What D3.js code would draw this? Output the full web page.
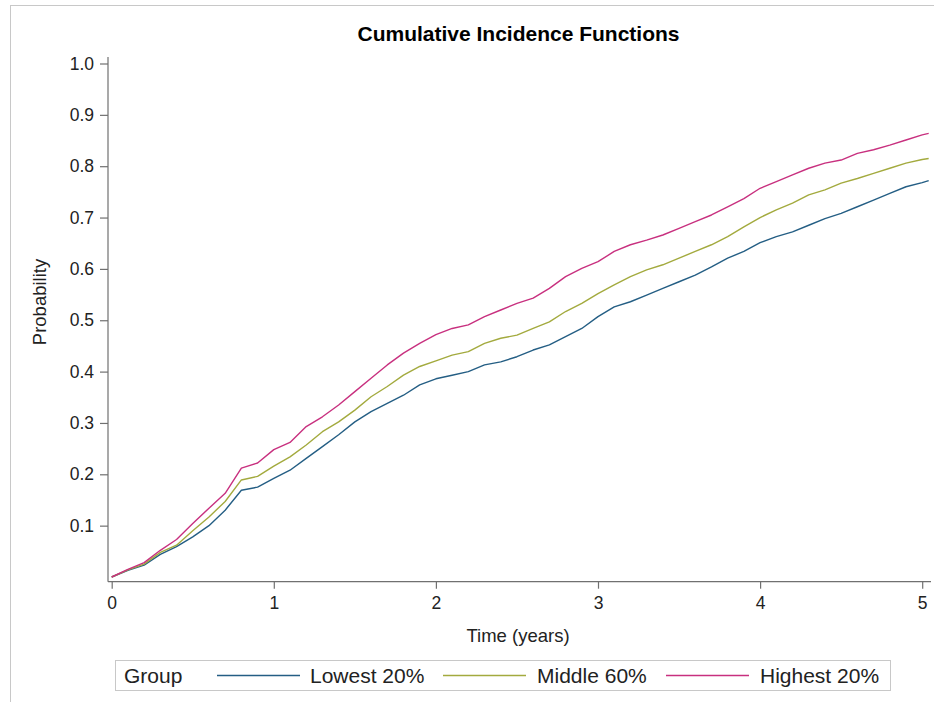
<!DOCTYPE html>
<html>
<head>
<meta charset="utf-8">
<script src="https://cdn.jsdelivr.net/npm/d3@7"></script>
<style>
  html, body { margin: 0; padding: 0; background: #fff; }
  svg { display: block; }
  text { font-family: Arial, "Liberation Sans", Helvetica, sans-serif; }
</style>
</head>
<body>
<svg id="chart" width="934" height="702"></svg>
<script>
const titleText = "Cumulative Incidence Functions";
const xLabel = "Time (years)";
const yLabel = "Probability";
const legendTitle = "Group";
const groups = ["Lowest 20%", "Middle 60%", "Highest 20%"];
const groupColors = ["#245e84", "#a3aa3e", "#c8307f"];
const xTicks = [0, 1, 2, 3, 4, 5];
const yTicks = [0.1, 0.2, 0.3, 0.4, 0.5, 0.6, 0.7, 0.8, 0.9, 1.0];

const times = [0, 0.1, 0.2, 0.3, 0.4, 0.5, 0.6, 0.7, 0.8, 0.9,
  1.0, 1.1, 1.2, 1.3, 1.4, 1.5, 1.6, 1.7, 1.8, 1.9,
  2.0, 2.1, 2.2, 2.3, 2.4, 2.5, 2.6, 2.7, 2.8, 2.9,
  3.0, 3.1, 3.2, 3.3, 3.4, 3.5, 3.6, 3.7, 3.8, 3.9,
  4.0, 4.1, 4.2, 4.3, 4.4, 4.5, 4.6, 4.7, 4.8, 4.9,
  5.0, 5.04];

const lowest = [0, 0.013, 0.023, 0.044, 0.059, 0.078, 0.100, 0.130, 0.169, 0.175,
  0.192, 0.208, 0.231, 0.254, 0.277, 0.302, 0.322, 0.338, 0.354, 0.374,
  0.386, 0.393, 0.400, 0.413, 0.419, 0.429, 0.442, 0.452, 0.468, 0.484,
  0.507, 0.526, 0.536, 0.549, 0.562, 0.575, 0.588, 0.604, 0.621, 0.634,
  0.651, 0.663, 0.672, 0.685, 0.698, 0.708, 0.721, 0.734, 0.747, 0.760,
  0.768, 0.772];

const middle = [0, 0.014, 0.025, 0.048, 0.062, 0.090, 0.117, 0.147, 0.189, 0.196,
  0.216, 0.234, 0.257, 0.283, 0.302, 0.325, 0.351, 0.371, 0.393, 0.410,
  0.421, 0.432, 0.439, 0.455, 0.465, 0.471, 0.484, 0.497, 0.517, 0.533,
  0.552, 0.569, 0.585, 0.598, 0.608, 0.621, 0.634, 0.647, 0.663, 0.682,
  0.700, 0.715, 0.728, 0.744, 0.754, 0.767, 0.776, 0.786, 0.796, 0.806,
  0.813, 0.815];

const highest = [0, 0.015, 0.028, 0.052, 0.073, 0.104, 0.134, 0.163, 0.212, 0.222,
  0.248, 0.262, 0.293, 0.312, 0.335, 0.361, 0.387, 0.413, 0.436, 0.455,
  0.472, 0.484, 0.491, 0.507, 0.520, 0.533, 0.543, 0.562, 0.585, 0.601,
  0.614, 0.634, 0.647, 0.656, 0.666, 0.679, 0.692, 0.705, 0.721, 0.737,
  0.757, 0.770, 0.783, 0.796, 0.806, 0.812, 0.825, 0.832, 0.841, 0.851,
  0.861, 0.864];

const seriesValues = [lowest, middle, highest];

const svg = d3.select("#chart");

// outer frame
svg.append("rect").attr("x", 10.5).attr("y", 5.5).attr("width", 1000).attr("height", 1000)
  .attr("fill", "none").attr("stroke", "#c8c8c8").attr("stroke-width", 1);

const x = d3.scaleLinear().domain([0, 5]).range([111.7, 922.2]);
const y = d3.scaleLinear().domain([0, 1]).range([577, 63.5]);

const axisColor = "#707070";
const textColor = "#222";

// title
svg.append("text").attr("x", 518.5).attr("y", 41).attr("text-anchor", "middle")
  .attr("font-size", 21).attr("font-weight", "bold").attr("fill", "#000").text(titleText);

// y axis
const yAxisX = 108;
const xAxisY = 581.7;
svg.append("line").attr("x1", yAxisX).attr("x2", yAxisX).attr("y1", 57).attr("y2", xAxisY)
  .attr("stroke", axisColor).attr("stroke-width", 1.2);
const yg = svg.append("g").attr("transform", `translate(${yAxisX},0)`)
  .call(d3.axisLeft(y).tickValues(yTicks).tickFormat(d3.format(".1f")).tickSize(8).tickPadding(6));
yg.select(".domain").remove();
yg.selectAll(".tick line").attr("stroke", axisColor).attr("stroke-width", 1.2);
yg.selectAll(".tick text").attr("font-size", 17.5).attr("fill", textColor)
  .attr("font-family", "Arial, 'Liberation Sans', sans-serif");

// x axis
svg.append("line").attr("x1", yAxisX).attr("x2", 931).attr("y1", xAxisY).attr("y2", xAxisY)
  .attr("stroke", axisColor).attr("stroke-width", 1.2);
const xg = svg.append("g").attr("transform", `translate(0,${xAxisY})`)
  .call(d3.axisBottom(x).tickValues(xTicks).tickFormat(d3.format("d")).tickSize(7).tickPadding(8));
xg.select(".domain").remove();
xg.selectAll(".tick line").attr("stroke", axisColor).attr("stroke-width", 1.2);
xg.selectAll(".tick text").attr("font-size", 17.5).attr("fill", textColor)
  .attr("font-family", "Arial, 'Liberation Sans', sans-serif");

// axis labels
svg.append("text").attr("x", 518).attr("y", 642).attr("text-anchor", "middle")
  .attr("font-size", 18.5).attr("fill", textColor).text(xLabel);
svg.append("text").attr("transform", "translate(46,302) rotate(-90)").attr("text-anchor", "middle")
  .attr("font-size", 18.5).attr("fill", textColor).text(yLabel);

// curves
const line = d3.line().x((d, i) => x(times[i])).y(d => y(d)).curve(d3.curveLinear);
svg.append("g").selectAll("path").data(seriesValues).join("path")
  .attr("d", d => line(d))
  .attr("fill", "none")
  .attr("stroke", (d, i) => groupColors[i])
  .attr("stroke-width", 1.4)
  .attr("stroke-linejoin", "round");

// legend
const lg = svg.append("g");
lg.append("rect").attr("x", 115.5).attr("y", 660.5).attr("width", 775).attr("height", 30)
  .attr("fill", "#fff").attr("stroke", "#c8c8c8");
lg.append("text").attr("x", 124).attr("y", 683).attr("font-size", 21).attr("fill", textColor).text(legendTitle);
const legendLineX = [217, 443, 666];
const legendTextX = [310, 537, 760];
groups.forEach((g, i) => {
  lg.append("line").attr("x1", legendLineX[i]).attr("x2", legendLineX[i] + 83)
    .attr("y1", 675.5).attr("y2", 675.5).attr("stroke", groupColors[i]).attr("stroke-width", 1.4);
  lg.append("text").attr("x", legendTextX[i]).attr("y", 683).attr("font-size", 21)
    .attr("fill", textColor).text(g);
});
</script>
</body>
</html>
